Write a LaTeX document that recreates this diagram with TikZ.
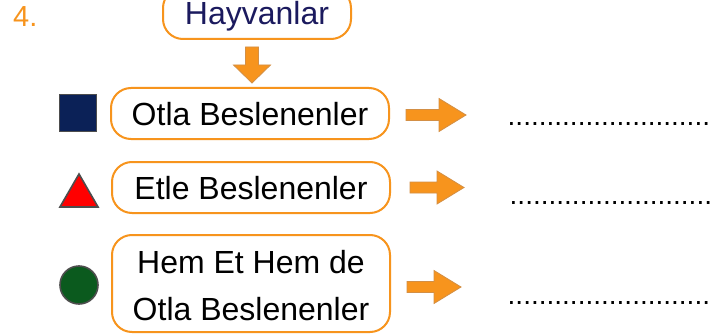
\documentclass[tikz,border=0pt]{standalone}
\usepackage{fontspec}
\setmainfont{Liberation Sans}
\usetikzlibrary{shapes.geometric}
\definecolor{org}{HTML}{F7941D}
\definecolor{orgedge}{HTML}{D38F45}
\definecolor{navy}{HTML}{1B1A5E}
\definecolor{sqnavy}{HTML}{0B2157}
\definecolor{edgegray}{HTML}{4D4D4D}
\definecolor{dgreen}{HTML}{0B5A1E}
\newcommand\myrarrow[3]{% tail x, tip x, centre y
  \filldraw[blockarrow] (#1,{#3-5.5}) -- ({#2-27},{#3-5.5}) -- ({#2-27},{#3-16.5}) -- (#2,#3)
    -- ({#2-27},{#3+16.5}) -- ({#2-27},{#3+5.5}) -- (#1,{#3+5.5}) -- cycle;}
\begin{document}
\begin{tikzpicture}[x=1pt,y=-1pt,
  box/.style={draw=org, line width=2pt, rounded corners=20pt, align=center, inner sep=0pt,
    font=\fontsize{32}{47}\selectfont, text height=23pt, text depth=0pt, minimum width=278pt},
  boxtext/.style={font=\fontsize{32}{47}\selectfont, inner sep=0pt, anchor=base},
  blockarrow/.style={fill=org, draw=orgedge, line width=0.8pt, line join=miter},
  marker/.style={draw=edgegray, line width=1.6pt, inner sep=0pt},
  dots/.style={font=\fontsize{28}{30}\selectfont, inner sep=0pt, anchor=base west}
]
\useasboundingbox (0,0) rectangle (725,334);
\clip (0,0) rectangle (725,334);
\fill[white] (0,0) rectangle (725,334);

% number
\node[anchor=base west, inner sep=0pt, text=org, font=\fontsize{29}{30}\selectfont] (num) at (13,27) {4.};

% top box
\node[box, minimum width=188pt, minimum height=51pt, text=navy] (hay) at (257,13.5) {Hayvanlar};

% category boxes
\node[box, minimum height=51pt] (otla) at (250,113.5) {Otla Beslenenler};
\node[box, minimum height=51pt] (etle) at (251,187.5) {Etle Beslenenler};
\node[box, minimum height=97pt] (hem) at (251,283.5) {};
\node[boxtext] (hem1) at (251,273) {Hem Et Hem de};
\node[boxtext] (hem2) at (251,320) {Otla Beslenenler};

% down arrow
\filldraw[blockarrow] (245.5,47) -- (258.5,47) -- (258.5,65) -- (270.5,65) -- (252,83)
  -- (233.5,65) -- (245.5,65) -- cycle;

% markers
\node[marker, rectangle, fill=sqnavy, minimum size=37pt] (sq) at (78,113) {};
\node[marker, regular polygon, regular polygon sides=3, fill=red, minimum size=44pt] (tri) at (79,196) {};
\node[marker, circle, fill=dgreen, minimum size=38pt] (circ) at (79,285) {};

% right arrows
\myrarrow{406}{466}{115}
\myrarrow{410}{464}{187.5}
\myrarrow{407}{461}{287}

% answer dots
\node[dots] (d1) at (507.5,125.5) {..........................};
\node[dots] (d2) at (509.5,204.5) {..........................};
\node[dots] (d3) at (507.5,304.5) {..........................};
\end{tikzpicture}
\end{document}
